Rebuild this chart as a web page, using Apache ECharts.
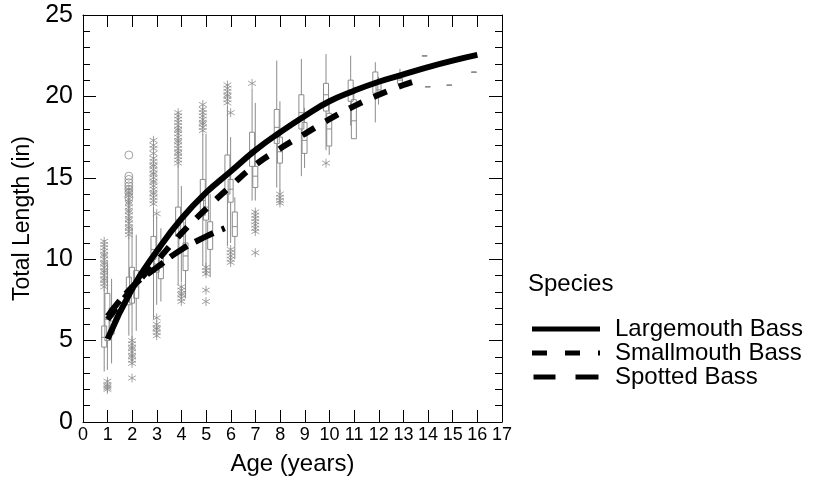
<!DOCTYPE html>
<html>
<head>
<meta charset="utf-8">
<script src="https://cdn.jsdelivr.net/npm/echarts@6/dist/echarts.min.js"></script>
<style>
  html, body { margin: 0; padding: 0; background: #fff; }
  #chart { width: 814px; height: 489px; }
</style>
</head>
<body>
<div id="chart"></div>
<script>
// box stats per age: [age, min, q1, median, q3, max]
const lmbBox = [
  [1, 3.1, 4.6, 5.2, 5.9, 8.2], [2, 5.3, 7.2, 8.0, 8.9, 11.4], [3, 6.3, 10.0, 10.6, 11.4, 13.2],
  [4, 8.4, 11.4, 12.4, 13.2, 15.8], [5, 9.6, 12.7, 13.6, 14.9, 17.7], [6, 10.8, 14.0, 15.2, 16.4, 19.4],
  [7, 13.6, 15.7, 16.7, 17.8, 20.5], [8, 14.4, 17.1, 18.1, 19.2, 22.2], [9, 15.1, 18.0, 19.0, 20.1, 22.3],
  [10, 16.7, 19.1, 20.1, 20.8, 22.6], [11, 18.2, 19.7, 20.4, 21.0, 22.5], [12, 18.4, 20.2, 20.8, 21.5, 22.1],
  [13, 20.8, 20.8, 21.0, 21.1, 21.7], [14, 22.5, 22.5, 22.5, 22.5, 22.5], [15, 20.7, 20.7, 20.7, 20.7, 20.7],
  [16, 21.5, 21.5, 21.5, 21.5, 21.5]
]
const smbBox = [
  [1, 3.2, 5.0, 6.3, 7.9, 9.8], [2, 5.0, 7.3, 8.4, 9.5, 12.0], [3, 7.2, 9.2, 9.7, 10.2, 12.6],
  [4, 8.6, 10.5, 11.4, 12.3, 14.5], [5, 9.0, 12.4, 13.2, 14.0, 17.7], [6, 11.0, 13.5, 14.3, 14.9, 17.5],
  [7, 13.6, 14.4, 15.1, 15.7, 19.6], [8, 14.1, 15.9, 16.6, 17.5, 19.7], [9, 15.6, 16.5, 17.3, 18.4, 19.3],
  [10, 16.4, 16.95, 18.0, 18.96, 19.5], [11, 17.4, 17.4, 18.5, 19.8, 20.6], [12, 19.5, 20.0, 20.4, 20.8, 21.2],
  [14, 20.6, 20.6, 20.6, 20.6, 20.6]
]
const spbBox = [
  [1, 3.6, 5.4, 6.2, 7.0, 8.8], [2, 5.6, 7.6, 8.3, 9.3, 11.5], [3, 7.4, 8.8, 9.5, 10.1, 11.9],
  [4, 7.6, 9.3, 10.2, 11.0, 12.8], [5, 8.9, 10.6, 11.5, 12.3, 14.0], [6, 10.0, 11.4, 12.0, 12.9, 13.8]
]

// outliers: [age, length]
const lmbOut = [
  [1, 8.3], [1, 8.5], [1, 8.7], [1, 8.8], [1, 9.0], [1, 9.2], [1, 9.3], [1, 9.5], [1, 9.7], [1, 9.8],
  [1, 10.0], [1, 10.2], [1, 10.3], [1, 10.5], [1, 10.7], [1, 10.9], [1, 11.1],
  [2, 11.5], [2, 11.7], [2, 11.9], [2, 12.0], [2, 12.2], [2, 12.4], [2, 12.5], [2, 12.7], [2, 12.9],
  [2, 13.0], [2, 13.2], [2, 13.4], [2, 13.5], [2, 13.7], [2, 13.9], [2, 14.1], [2, 14.3],
  [3, 13.4], [3, 13.6], [3, 13.8], [3, 14.0], [3, 14.1], [3, 14.3], [3, 14.5], [3, 14.7], [3, 14.8],
  [3, 15.0], [3, 15.2], [3, 15.3], [3, 15.5], [3, 15.7], [3, 15.8], [3, 16.0], [3, 16.2], [3, 16.5],
  [3, 16.8], [3, 17.0], [3, 17.3],
  [4, 15.9], [4, 16.1], [4, 16.3], [4, 16.5], [4, 16.6], [4, 16.8], [4, 17.0], [4, 17.2], [4, 17.3],
  [4, 17.5], [4, 17.7], [4, 17.9], [4, 18.0], [4, 18.2], [4, 18.4], [4, 18.6], [4, 18.8], [4, 19.0],
  [5, 17.9], [5, 18.1], [5, 18.3], [5, 18.4], [5, 18.6], [5, 18.8], [5, 19.0], [5, 19.2], [5, 19.5],
  [6, 19.6], [6, 19.8], [6, 20.0], [6, 20.1], [6, 20.3], [6, 20.5], [6, 20.7],
  [7, 20.8], [10, 15.9]
]
const lmbCircles = [[2, 16.4], [2, 15.1], [2, 14.9], [2, 14.7], [2, 14.5], [2, 14.3], [2, 14.1], [2, 13.8]]
const smbOut = [
  [1, 2.0], [1, 2.1], [1, 2.2], [1, 2.3], [1, 2.5],
  [2, 2.7], [2, 3.6], [2, 3.8], [2, 4.0], [2, 4.1], [2, 4.3], [2, 4.5], [2, 4.6], [2, 4.8], [2, 5.0],
  [3, 12.8], [3, 5.3], [3, 5.5], [3, 5.7], [3, 5.8], [3, 6.0], [3, 6.4],
  [4, 7.4], [4, 7.6], [4, 7.8], [4, 7.9], [4, 8.1], [4, 8.3],
  [5, 9.1], [5, 9.3], [5, 9.5], [5, 8.1], [5, 7.4],
  [6, 19.0], [6, 9.8], [6, 10.0], [6, 10.2], [6, 10.4], [6, 10.6],
  [7, 11.7], [7, 11.9], [7, 12.1], [7, 12.3], [7, 12.5], [7, 12.7], [7, 12.9], [7, 10.4],
  [8, 13.45], [8, 13.6], [8, 13.8], [8, 14.0]
]

// fitted growth curves
const lmbAges = [1, 2, 3, 4, 5, 6, 7, 8, 9, 10, 11, 12, 13, 14, 15, 16]
const lmbFit = [5.1, 8.2, 10.5, 12.5, 14.1, 15.4, 16.7, 17.8, 18.8, 19.7, 20.35, 20.9, 21.35, 21.8, 22.2, 22.55]
const smbAges = [1, 2, 3, 4, 5, 6, 7, 8, 9, 10, 11, 12, 13, 13.4]
const smbFit = [6.3, 8.2, 9.9, 11.6, 13.1, 14.5, 15.8, 16.8, 17.7, 18.6, 19.4, 20.1, 20.7, 20.9]
const spbAges = [1, 2, 3, 4, 5, 5.75]
const spbFit = [6.5, 8.3, 9.5, 10.6, 11.4, 11.9]

const GRAY = '#8c8c8c'
const FONT = 'Liberation Sans'
const asterisk = 'path://M5,0L5,10M0.67,2.5L9.33,7.5M0.67,7.5L9.33,2.5'

const boxRenderer = (off) => (params, api) => {
  const x = api.value(0) + off
  const lo = api.coord([x, api.value(1)])
  const q1 = api.coord([x, api.value(2)])
  const md = api.coord([x, api.value(3)])
  const q3 = api.coord([x, api.value(4)])
  const hi = api.coord([x, api.value(5)])
  const w = 2.5
  const st = () => ({ stroke: GRAY, lineWidth: 1, fill: 'none' })
  return {
    type: 'group',
    children: [
      { type: 'line', shape: { x1: lo[0], y1: lo[1], x2: q1[0], y2: q1[1] }, style: st() },
      { type: 'line', shape: { x1: q3[0], y1: q3[1], x2: hi[0], y2: hi[1] }, style: st() },
      { type: 'rect', shape: { x: q3[0] - w, y: q3[1], width: 2 * w, height: Math.max(q1[1] - q3[1], 0.5) }, style: st() },
      { type: 'line', shape: { x1: md[0] - w, y1: md[1], x2: md[0] + w, y2: md[1] }, style: st() }
    ]
  }
}

const boxSeries = (name, data, off) => ({
  name, type: 'custom', data, renderItem: boxRenderer(off),
  encode: { x: 0, y: [1, 2, 3, 4, 5] }, silent: true, z: 1
})
const outSeries = (name, data, off, symbol, size) => ({
  name, type: 'scatter', symbol, symbolSize: size, symbolKeepAspect: true,
  data: data.map(d => [d[0] + off, d[1]]), silent: true, z: 2,
  itemStyle: { color: 'transparent', borderColor: GRAY, borderWidth: 1 }
})
const fitSeries = (name, ages, vals, type) => ({
  name, type: 'line', smooth: true, symbol: 'none', z: 5,
  data: ages.map((a, i) => [a, vals[i]]),
  lineStyle: { color: '#000', width: 6, type, cap: 'butt' }, itemStyle: { color: '#000' }
})

const chart = echarts.init(document.getElementById('chart'))
const axisLine = { show: true, onZero: false, lineStyle: { color: '#000', width: 1 } }
const tickLine = { color: '#000', width: 1 }
const option = {
  animation: false,
  textStyle: { fontFamily: FONT, color: '#000' },
  grid: { left: 83, right: 312, top: 15, bottom: 67 },
  xAxis: [
    {
      type: 'value', min: 0, max: 17, interval: 1,
      name: 'Age (years)', nameLocation: 'middle', nameGap: 30,
      nameTextStyle: { fontSize: 24, fontFamily: FONT, color: '#000' },
      axisLine, axisTick: { inside: true, length: 12, lineStyle: tickLine },
      axisLabel: { fontSize: 18, fontFamily: FONT, color: '#000', margin: 4, showMinLabel: true, showMaxLabel: true },
      splitLine: { show: false }
    },
    {
      type: 'value', min: 0, max: 17, interval: 1, position: 'top',
      axisLine, axisTick: { inside: true, length: 12, lineStyle: tickLine },
      axisLabel: { show: false }, splitLine: { show: false }
    }
  ],
  yAxis: [
    {
      type: 'value', min: 0, max: 25, interval: 5,
      name: 'Total Length (in)', nameLocation: 'middle', nameGap: 44,
      nameTextStyle: { fontSize: 23, fontFamily: FONT, color: '#000' },
      axisLine, axisTick: { inside: true, length: 13, lineStyle: tickLine },
      minorTick: { show: true, splitNumber: 5, length: 7, lineStyle: tickLine },
      axisLabel: { fontSize: 25, fontFamily: FONT, color: '#000', margin: 10 },
      splitLine: { show: false }, minorSplitLine: { show: false }
    },
    {
      type: 'value', min: 0, max: 25, interval: 5, position: 'right',
      axisLine, axisTick: { inside: true, length: 13, lineStyle: tickLine },
      minorTick: { show: true, splitNumber: 5, length: 7, lineStyle: tickLine },
      axisLabel: { show: false }, splitLine: { show: false }
    }
  ],
  legend: {
    orient: 'vertical', left: 527, top: 312,
    itemWidth: 68, itemHeight: 5, itemGap: 0,
    textStyle: { fontSize: 24, lineHeight: 24, fontFamily: FONT, color: '#000', padding: [0, 0, 0, 10] },
    data: [
      { name: 'Largemouth Bass', icon: 'path://M0,0H68V5H0Z' },
      { name: 'Smallmouth Bass', icon: 'path://M0,0H15V5H0ZM33,0H48V5H33ZM66,0H68V5H66Z' },
      { name: 'Spotted Bass', icon: 'path://M0,0H22V5H0ZM42,0H65V5H42Z' }
    ]
  },
  graphic: [
    { type: 'text', left: 528, top: 272, style: { text: 'Species', fontSize: 24, fontFamily: FONT, fill: '#000' } }
  ],
  series: [
    boxSeries('lmb-box', lmbBox, -0.14),
    boxSeries('smb-box', smbBox, -0.01),
    boxSeries('spb-box', spbBox, 0.16),
    outSeries('lmb-out', lmbOut, -0.14, asterisk, 9),
    outSeries('lmb-circ', lmbCircles, -0.14, 'circle', 8),
    outSeries('smb-out', smbOut, -0.01, asterisk, 9),
    fitSeries('Largemouth Bass', lmbAges, lmbFit, 'solid'),
    fitSeries('Smallmouth Bass', smbAges, smbFit, [14, 13]),
    fitSeries('Spotted Bass', spbAges, spbFit, [20, 9])
  ]
}
chart.setOption(option)
</script>
</body>
</html>
